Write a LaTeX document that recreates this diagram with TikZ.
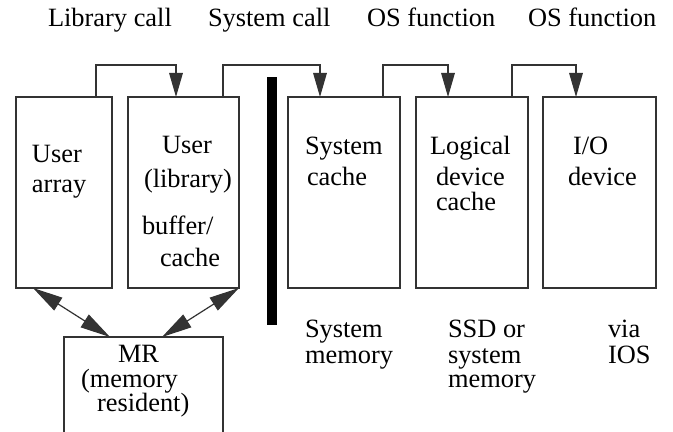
\documentclass[tikz,border=0pt]{standalone}
\usepackage{fontspec}
\setmainfont{Liberation Serif}
\newfontfamily\labelserif{Liberation Serif}
\usetikzlibrary{arrows.meta,calc,fit}

\begin{document}
\begin{tikzpicture}[
  x=0.5pt, y=-0.5pt,
  box/.style={draw=black!80, line width=0.6pt, inner sep=0pt, outer sep=0pt},
  bar/.style={fill=black, inner sep=0pt, outer sep=0pt},
  conn/.style={draw=black!80, line width=0.6pt,
    -{Triangle[length=12pt,width=6.8pt]}},
  dbl/.style={draw=black!80, line width=0.6pt,
    {Triangle[length=15pt,width=7.5pt]}-{Triangle[length=15pt,width=7.5pt]}},
  lbl/.style={anchor=base west, inner sep=0pt, outer sep=0pt,
    font=\labelserif\fontsize{13.2pt}{15pt}\selectfont}
]
\useasboundingbox (0,0) rectangle (673,432);
\clip (0,0) rectangle (673,432);

% storage levels
\node[box, fit={(16,97) (112,288)}]  (ua) {};
\node[box, fit={(128,97) (239,288)}] (ul) {};
\node[box, fit={(288,97) (400,288)}] (sc) {};
\node[box, fit={(416,97) (528,288)}] (ld) {};
\node[box, fit={(543,97) (656,288)}] (io) {};
\node[box, fit={(64,337) (223,445)}] (mr) {};

% user / system boundary
\node[bar, fit={(267,77) (277,325)}] (boundary) {};

% call chain along the top
\draw[conn] ($(ua.north west)+(80,0)$) -- ++(0,-32) -| ($(ul.north west)+(48,0)$);
\draw[conn] ($(ul.north west)+(95,0)$) -- ++(0,-32) -| ($(sc.north west)+(32,0)$);
\draw[conn] ($(sc.north west)+(95,0)$) -- ++(0,-32) -| ($(ld.north west)+(32,0)$);
\draw[conn] ($(ld.north west)+(96,0)$) -- ++(0,-32) -| ($(io.north west)+(33,0)$);

% links to memory-resident data
\draw[dbl] ($(ua.south west)+(17,0)$) -- ($(mr.north west)+(46,0)$);
\draw[dbl] (ul.south east) -- ($(mr.north west)+(98,0)$);

% call labels
\node[lbl] (c1) at (48,27)  {Library call};
\node[lbl] (c2) at (208,27) {System call};
\node[lbl] (c3) at (367,27) {OS function};
\node[lbl] (c4) at (528,27) {OS function};

% box texts
\node[lbl] (ua1) at (32,163) {User};
\node[lbl] (ua2) at (32,193) {array};

\node[lbl] (ul1) at (162,154) {User};
\node[lbl] (ul2) at (144,188) {(library)};
\node[lbl] (ul3) at (142,235) {buffer/};
\node[lbl] (ul4) at (160,267) {cache};

\node[lbl] (sc1) at (305,155) {System};
\node[lbl] (sc2) at (307,186) {cache};

\node[lbl] (ld1) at (430,155) {Logical};
\node[lbl] (ld2) at (436,186) {device};
\node[lbl] (ld3) at (436,211) {cache};

\node[lbl] (io1) at (573,155) {I/O};
\node[lbl] (io2) at (568,186) {device};

\node[lbl] (mr1) at (118,362) {MR};
\node[lbl] (mr2) at (81,387)  {(memory};
\node[lbl] (mr3) at (97,411)  {resident)};

% where each level lives
\node[lbl] (w1) at (305,337) {System};
\node[lbl] (w2) at (305,363) {memory};
\node[lbl] (w3) at (448,337) {SSD or};
\node[lbl] (w4) at (448,363) {system};
\node[lbl] (w5) at (448,387) {memory};
\node[lbl] (w6) at (608,337) {via};
\node[lbl] (w7) at (608,363) {IOS};
\end{tikzpicture}
\end{document}
